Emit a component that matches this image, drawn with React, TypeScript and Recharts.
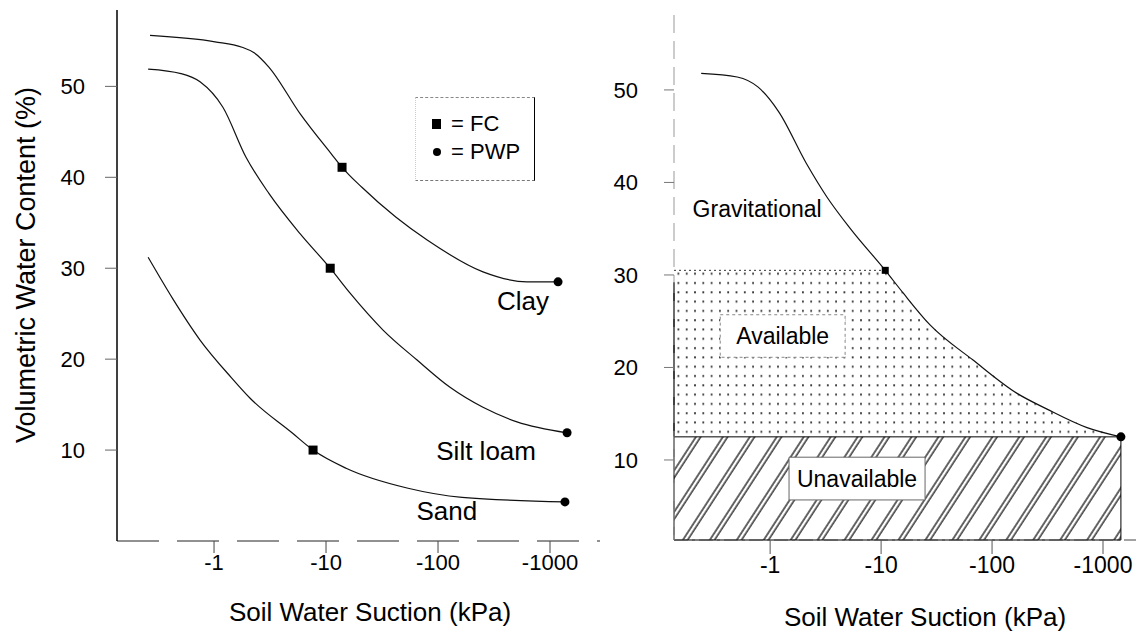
import {
  Area,
  ComposedChart,
  Legend,
  Line,
  ReferenceArea,
  ReferenceDot,
  ReferenceLine,
  Scatter,
  XAxis,
  YAxis,
} from 'recharts'

// suction in kPa (drawn as negative), water content in %
const suctionTicks = [1, 10, 100, 1000]
const contentTicks = [10, 20, 30, 40, 50]

const clayCurve = [
  { kpa: 0.268, wc: 55.6 },
  { kpa: 1.02, wc: 54.9 },
  { kpa: 1.78, wc: 54.3 },
  { kpa: 2.28, wc: 53.7 },
  { kpa: 3.1, wc: 52.1 },
  { kpa: 5.86, wc: 47.0 },
  { kpa: 11.1, wc: 42.6 },
  { kpa: 13.9, wc: 41.1 },
  { kpa: 20.9, wc: 38.9 },
  { kpa: 42.2, wc: 35.6 },
  { kpa: 80, wc: 33.1 },
  { kpa: 252, wc: 29.6 },
  { kpa: 623, wc: 28.5 },
  { kpa: 1180, wc: 28.5 },
]

const siltLoamCurve = [
  { kpa: 0.258, wc: 51.9 },
  { kpa: 0.507, wc: 51.4 },
  { kpa: 0.75, wc: 50.5 },
  { kpa: 1.2, wc: 47.7 },
  { kpa: 1.93, wc: 42.2 },
  { kpa: 3.1, wc: 38.2 },
  { kpa: 5.86, wc: 33.8 },
  { kpa: 10.9, wc: 30.0 },
  { kpa: 16.4, wc: 27.25 },
  { kpa: 32.3, wc: 23.2 },
  { kpa: 65, wc: 19.9 },
  { kpa: 128, wc: 16.9 },
  { kpa: 252, wc: 14.7 },
  { kpa: 507, wc: 13.1 },
  { kpa: 1420, wc: 11.9 },
]

const sandCurve = [
  { kpa: 0.258, wc: 31.2 },
  { kpa: 0.43, wc: 26.6 },
  { kpa: 0.75, wc: 22.1 },
  { kpa: 1.42, wc: 18.0 },
  { kpa: 2.1, wc: 15.7 },
  { kpa: 4.97, wc: 11.9 },
  { kpa: 7.66, wc: 10.0 },
  { kpa: 15.1, wc: 8.0 },
  { kpa: 54, wc: 5.8 },
  { kpa: 164, wc: 4.8 },
  { kpa: 1360, wc: 4.3 },
]

const fieldCapacity = [
  { kpa: 13.9, wc: 41.1 },
  { kpa: 10.9, wc: 30.0 },
  { kpa: 7.66, wc: 10.0 },
]

const wiltingPoint = [
  { kpa: 1180, wc: 28.5 },
  { kpa: 1420, wc: 11.9 },
  { kpa: 1360, wc: 4.3 },
]

// right panel: one silt loam curve split into water classes
const profileCurve = [
  { kpa: 0.239, wc: 51.8 },
  { kpa: 0.505, wc: 51.4 },
  { kpa: 0.78, wc: 50.3 },
  { kpa: 1.2, wc: 47.6 },
  { kpa: 2.11, wc: 42.1 },
  { kpa: 3.26, wc: 38.4 },
  { kpa: 5.37, wc: 34.9 },
  { kpa: 10.9, wc: 30.5 },
  { kpa: 15.8, wc: 28.05 },
  { kpa: 27.6, wc: 24.6 },
  { kpa: 67.4, wc: 20.8 },
  { kpa: 168, wc: 17.2 },
  { kpa: 313, wc: 15.5 },
  { kpa: 718, wc: 13.5 },
  { kpa: 1450, wc: 12.5 },
]
const profileFc = { kpa: 10.9, wc: 30.5 }
const profilePwp = { kpa: 1450, wc: 12.5 }

const leftX: [number, number] = [0.136, 2795]
const leftY: [number, number] = [0, 58.4]
const rightX: [number, number] = [0.136, 1983]
const rightY: [number, number] = [1.35, 58.1]

// available water: flat at FC from the axis, then along the curve down to PWP
const availableEdge = [
  { kpa: rightX[0], wc: profileFc.wc },
  ...profileCurve.filter((p) => p.kpa >= profileFc.kpa),
]

const FONT = "'Liberation Sans', Arial, Helvetica, sans-serif"
const neg = (v: number) => `-${v}`

const FcMark = (props: any) => {
  const s = props.side ?? 9
  return <rect x={props.cx - s / 2} y={props.cy - s / 2} width={s} height={s} fill='#000' />
}
const PwpMark = (props: any) => <circle cx={props.cx} cy={props.cy} r={4.5} fill='#000' />

const title = (text: string, x: number, y: number, angle = 0, size = 26) => () => (
  <text
    x={x}
    y={y}
    textAnchor='middle'
    dominantBaseline='central'
    fontSize={size}
    fill='#000'
    transform={angle ? `rotate(${angle}, ${x}, ${y})` : undefined}
  >
    {text}
  </text>
)

const LegendBox = (props: any) => (
  <div
    style={{
      boxSizing: 'border-box',
      width: 120,
      height: 84,
      paddingTop: 12,
      paddingLeft: 14,
      fontSize: 22,
      color: '#000',
      borderTop: '1px dashed #888',
      borderLeft: '1px dotted #ccc',
      borderBottom: '1px dashed #777',
      borderRight: '1.5px solid #000',
      background: '#fff',
    }}
  >
    {(props.payload || [])
      .filter((e: any) => e.type !== 'none')
      .map((e: any) => (
        <div key={e.value} style={{ display: 'flex', alignItems: 'center', height: 28 }}>
          <svg width={14} height={14} style={{ marginRight: 7 }}>
            {e.type === 'square' ? (
              <rect x={2} y={2} width={9} height={10} fill='#000' />
            ) : (
              <circle cx={7} cy={7} r={4} fill='#000' />
            )}
          </svg>
          <span>{e.value}</span>
        </div>
      ))}
  </div>
)

const curveLabel = (value: string) => ({ value, position: 'center' as const, fontSize: 26, fill: '#000' })

const App = () => {
  return (
    <div
      style={{
        position: 'absolute',
        left: 0,
        top: 0,
        width: 1136,
        height: 635,
        background: '#fff',
        fontFamily: FONT,
      }}
    >
      <div style={{ position: 'absolute', left: 0, top: 0 }}>
        <ComposedChart width={600} height={635} margin={{ top: 10, right: 0, bottom: 0, left: 0 }}>
          <XAxis
            dataKey='kpa'
            type='number'
            scale='log'
            domain={leftX}
            allowDataOverflow
            ticks={suctionTicks}
            tickFormatter={neg}
            height={94}
            tickSize={12}
            tickMargin={1}
            tick={{ fill: '#000', fontSize: 22 }}
            axisLine={{ stroke: '#222', strokeDasharray: '42 18' }}
            tickLine={{ stroke: '#444' }}
            label={title('Soil Water Suction (kPa)', 370, 612)}
          />
          <YAxis
            type='number'
            domain={leftY}
            allowDataOverflow
            ticks={contentTicks}
            width={117}
            tickSize={12}
            tickMargin={20}
            tick={{ fill: '#000', fontSize: 22 }}
            axisLine={{ stroke: '#000', strokeWidth: 1.5 }}
            tickLine={{ stroke: '#666' }}
            label={title('Volumetric Water Content (%)', 26, 265, -90, 27)}
          />
          <Line data={clayCurve} dataKey='wc' type='monotone' stroke='#111' strokeWidth={1.2} dot={false} activeDot={false} legendType='none' isAnimationActive={false} />
          <Line data={siltLoamCurve} dataKey='wc' type='monotone' stroke='#111' strokeWidth={1.2} dot={false} activeDot={false} legendType='none' isAnimationActive={false} />
          <Line data={sandCurve} dataKey='wc' type='monotone' stroke='#111' strokeWidth={1.2} dot={false} activeDot={false} legendType='none' isAnimationActive={false} />
          <Scatter name='= FC' data={fieldCapacity} dataKey='wc' fill='#000' legendType='square' shape={<FcMark />} isAnimationActive={false} />
          <Scatter name='= PWP' data={wiltingPoint} dataKey='wc' fill='#000' legendType='circle' shape={<PwpMark />} isAnimationActive={false} />
          <ReferenceDot x={574} y={26.4} r={0} stroke='none' label={curveLabel('Clay')} />
          <ReferenceDot x={269} y={9.9} r={0} stroke='none' label={curveLabel('Silt loam')} />
          <ReferenceDot x={120} y={3.3} r={0} stroke='none' label={curveLabel('Sand')} />
          <Legend
            layout='vertical'
            align='center'
            verticalAlign='middle'
            content={<LegendBox />}
            wrapperStyle={{ left: 415, top: 97, width: 120, height: 84 }}
          />
        </ComposedChart>
      </div>

      <div style={{ position: 'absolute', left: 600, top: 0 }}>
        <ComposedChart width={536} height={635} margin={{ top: 15, right: 0, bottom: 0, left: 0 }}>
          <defs>
            <pattern id='dots' width={8.3} height={9.3} patternUnits='userSpaceOnUse'>
              <rect x={3} y={3} width={1.4} height={2} fill='#000' />
            </pattern>
            <pattern id='hatch' width={22.6} height={22.6} patternUnits='userSpaceOnUse' patternTransform='rotate(33)'>
              <line x1={2} y1={0} x2={2} y2={22.6} stroke='#000' strokeWidth={1.2} />
              <line x1={6} y1={0} x2={6} y2={22.6} stroke='#000' strokeWidth={1.2} />
            </pattern>
          </defs>
          <XAxis
            dataKey='kpa'
            type='number'
            scale='log'
            domain={rightX}
            allowDataOverflow
            ticks={suctionTicks}
            tickFormatter={neg}
            height={95}
            tickSize={14}
            tickMargin={3}
            tick={{ fill: '#000', fontSize: 23 }}
            axisLine={{ stroke: '#444', strokeDasharray: '14 4 3 4' }}
            tickLine={{ stroke: '#555' }}
            label={title('Soil Water Suction (kPa)', 325, 617)}
          />
          <YAxis
            type='number'
            domain={rightY}
            allowDataOverflow
            ticks={contentTicks}
            width={74}
            tickSize={10}
            tickMargin={26}
            tick={{ fill: '#000', fontSize: 22 }}
            axisLine={{ stroke: '#999', strokeDasharray: '18 8' }}
            tickLine={{ stroke: '#777' }}
          />
          <Area
            data={availableEdge}
            dataKey='wc'
            type='linear'
            baseValue={profilePwp.wc}
            fill='url(#dots)'
            fillOpacity={1}
            stroke='none'
            dot={false}
            activeDot={false}
            legendType='none'
            isAnimationActive={false}
          />
          <ReferenceArea
            x1={rightX[0]}
            x2={profilePwp.kpa}
            y1={rightY[0]}
            y2={profilePwp.wc}
            fill='url(#hatch)'
            fillOpacity={1}
            stroke='#000'
            strokeWidth={1}
          />
          <ReferenceLine
            segment={[{ x: rightX[0], y: profileFc.wc }, { x: profileFc.kpa, y: profileFc.wc }]}
            stroke='#333'
            strokeDasharray='2 3'
          />
          <ReferenceLine
            segment={[{ x: rightX[0], y: profileFc.wc - 1.3 }, { x: rightX[0], y: profilePwp.wc }]}
            stroke='#000'
            strokeWidth={1.5}
          />
          <ReferenceArea
            x1={0.355}
            x2={4.74}
            y1={21.1}
            y2={25.7}
            fill='#fff'
            fillOpacity={1}
            stroke='#888'
            strokeDasharray='3 3'
            label={{ value: 'Available', position: 'center', fontSize: 23, fill: '#000' }}
          />
          <ReferenceArea
            x1={1.48}
            x2={24.9}
            y1={5.68}
            y2={10.3}
            fill='#fff'
            fillOpacity={1}
            stroke='#666'
            label={{ value: 'Unavailable', position: 'center', fontSize: 23, fill: '#000' }}
          />
          <ReferenceDot
            x={0.764}
            y={37.2}
            r={0}
            stroke='none'
            label={{ value: 'Gravitational', position: 'center', fontSize: 23, fill: '#000' }}
          />
          <Line data={profileCurve} dataKey='wc' type='monotone' stroke='#111' strokeWidth={1.2} dot={false} activeDot={false} legendType='none' isAnimationActive={false} />
          <Scatter data={[profileFc]} dataKey='wc' fill='#000' shape={<FcMark side={7} />} isAnimationActive={false} />
          <Scatter data={[profilePwp]} dataKey='wc' fill='#000' shape={<PwpMark />} isAnimationActive={false} />
        </ComposedChart>
      </div>
    </div>
  )
}

export default App
